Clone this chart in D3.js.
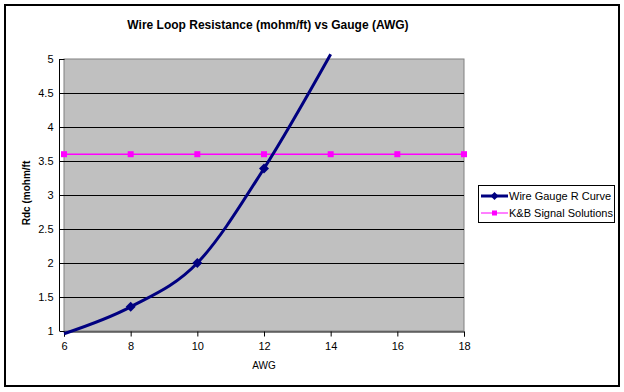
<!DOCTYPE html>
<html><head><meta charset="utf-8">
<script src="https://cdn.jsdelivr.net/npm/d3@7"></script>
<style>body{margin:0;background:#fff;font-family:"Liberation Sans",Arial,sans-serif}</style>
</head><body><svg id="c" width="624" height="392"></svg>
<script>
const awg = [6, 8, 10, 12, 14];
const wireR = [0.96, 1.355, 2.0, 3.39, 5.07];
const kbAwg = [6, 8, 10, 12, 14, 16, 18];
const kbR = [3.6, 3.6, 3.6, 3.6, 3.6, 3.6, 3.6];
const xTicks = [6, 8, 10, 12, 14, 16, 18];
const yTicks = [1, 1.5, 2, 2.5, 3, 3.5, 4, 4.5, 5];
const seriesNames = ["Wire Gauge R Curve", "K&B Signal Solutions"];

const svg = d3.select("#c");
const L = 64, R = 464, T = 59, B = 331;
const x = d3.scaleLinear().domain([6, 18]).range([L, R]);
const y = d3.scaleLinear().domain([1, 5]).range([B, T]);

svg.append("rect").attr("x", 5).attr("y", 5).attr("width", 614).attr("height", 381)
  .attr("fill", "#fff").attr("stroke", "#000").attr("stroke-width", 2);

svg.append("text").attr("x", 268).attr("y", 29).attr("text-anchor", "middle")
  .attr("font-size", 12).attr("font-weight", "bold")
  .text("Wire Loop Resistance (mohm/ft) vs Gauge (AWG)");

svg.append("rect").attr("x", L).attr("y", T).attr("width", R - L).attr("height", B - T)
  .attr("fill", "#c0c0c0").attr("stroke", "#808080").attr("stroke-width", 1);

svg.append("g").selectAll("line").data(yTicks.filter(v => v > 1 && v < 5)).join("line")
  .attr("x1", L).attr("x2", R).attr("y1", d => Math.round(y(d)) + 0.5).attr("y2", d => Math.round(y(d)) + 0.5)
  .attr("stroke", "#000");

const yAxis = svg.append("g").attr("transform", `translate(${L + 0.5},0)`)
  .call(d3.axisLeft(y).tickValues(yTicks).tickSize(5).tickPadding(6).tickFormat(d => d));
const xAxis = svg.append("g").attr("transform", `translate(0,${B + 0.5})`)
  .call(d3.axisBottom(x).tickValues(xTicks).tickSize(5).tickPadding(6).tickFormat(d => d));
[yAxis, xAxis].forEach(g => {
  g.select(".domain").attr("stroke", "#000");
  g.selectAll("line").attr("stroke", "#000");
  g.selectAll("text").attr("font-family", "Liberation Sans, Arial").attr("font-size", 11).attr("fill", "#000");
});
yAxis.select(".domain").attr("d", `M-5,${B}V${T}`);

svg.append("text").attr("x", 264).attr("y", 369).attr("text-anchor", "middle")
  .attr("font-size", 10).text("AWG");
svg.append("text").attr("transform", "translate(30,193) rotate(-90)").attr("text-anchor", "middle")
  .attr("font-size", 10).attr("font-weight", "bold").text("Rdc (mohm/ft");

// K&B line
const kbData = kbAwg.map((a, i) => [a, kbR[i]]);
svg.append("path").datum(kbData)
  .attr("d", d3.line().x(d => x(d[0])).y(d => y(d[1])))
  .attr("fill", "none").attr("stroke", "#ff00ff").attr("stroke-width", 1.5);
svg.append("g").selectAll("rect").data(kbData).join("rect")
  .attr("x", d => x(d[0]) - 3).attr("y", d => y(d[1]) - 3).attr("width", 6).attr("height", 6)
  .attr("fill", "#ff00ff");

// wire curve
const wData = awg.map((a, i) => [a, wireR[i]]);
svg.append("path").datum(wData)
  .attr("d", d3.line().x(d => x(d[0])).y(d => y(d[1])).curve(d3.curveCardinal.tension(0)))
  .attr("fill", "none").attr("stroke", "#000080").attr("stroke-width", 3);
const diamond = (cx, cy, r) => `M${cx},${cy - r}L${cx + r},${cy}L${cx},${cy + r}L${cx - r},${cy}Z`;
svg.append("g").selectAll("path").data(wData.filter(d => d[1] >= 1 && d[1] <= 5)).join("path")
  .attr("d", d => diamond(x(d[0]), y(d[1]), 5)).attr("fill", "#000080");

// legend
const lg = svg.append("g");
lg.append("rect").attr("x", 478.5).attr("y", 185.5).attr("width", 136).attr("height", 37)
  .attr("fill", "#fff").attr("stroke", "#000");
const ly = [196, 213];
lg.append("line").attr("x1", 481).attr("x2", 508).attr("y1", ly[0]).attr("y2", ly[0])
  .attr("stroke", "#000080").attr("stroke-width", 3);
lg.append("path").attr("d", diamond(494.5, ly[0], 4)).attr("fill", "#000080");
lg.append("line").attr("x1", 481).attr("x2", 508).attr("y1", ly[1]).attr("y2", ly[1])
  .attr("stroke", "#ff00ff").attr("stroke-width", 1);
lg.append("rect").attr("x", 492).attr("y", ly[1] - 2.5).attr("width", 5).attr("height", 5).attr("fill", "#ff00ff");
lg.selectAll("text.lt").data(seriesNames).join("text").attr("class", "lt")
  .attr("x", 509).attr("y", (d, i) => ly[i] + 4).attr("font-size", 11).text(d => d);
</script></body></html>
